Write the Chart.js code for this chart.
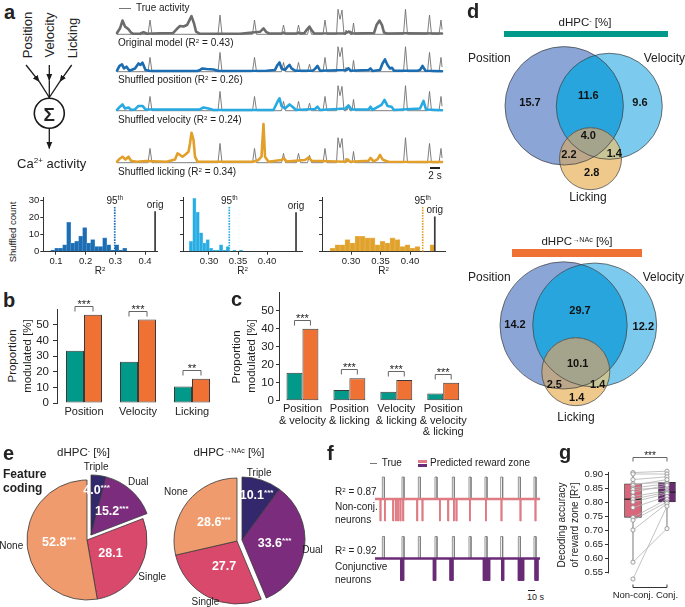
<!DOCTYPE html>
<html>
<head>
<meta charset="utf-8">
<title>Feature coding</title>
<script src="https://cdn.jsdelivr.net/npm/chart.js@4.4.1/dist/chart.umd.min.js"></script>
<style>
  body { margin: 0; background: #fff; font-family: "Liberation Sans", Arial, sans-serif; color: #222; }
  #fig { position: relative; width: 685px; height: 607px; overflow: hidden; }
  #fig canvas { position: absolute; }
  .lab { position: absolute; white-space: nowrap; line-height: 1; }
  .lab sup { font-size: 0.62em; vertical-align: 0.5em; line-height: 0; }
  .blk { position: absolute; }
</style>
</head>
<body>
<div id="fig">
  <svg width="100" height="160" style="position:absolute;left:0;top:0">
    <defs>
      <marker id="ah" viewBox="0 0 8 8" refX="7.5" refY="4" markerWidth="7" markerHeight="7" markerUnits="userSpaceOnUse" orient="auto">
        <path d="M0,0.6 L8,4 L0,7.4 z" fill="#1a1a1a"/>
      </marker>
    </defs>
    <g stroke="#1a1a1a" stroke-width="1.3" fill="none">
      <line x1="26" y1="65" x2="39.3" y2="81.7" marker-end="url(#ah)"/>
      <line x1="39.3" y1="81.7" x2="49.3" y2="97.5"/>
      <line x1="49.3" y1="65" x2="49.3" y2="80.5" marker-end="url(#ah)"/>
      <line x1="49.3" y1="80.5" x2="49.3" y2="98"/>
      <line x1="71.7" y1="65" x2="59.8" y2="81.7" marker-end="url(#ah)"/>
      <line x1="59.8" y1="81.7" x2="49.3" y2="97.5"/>
      <circle cx="49.3" cy="113.3" r="15" stroke-width="1.6"/>
      <line x1="49.3" y1="128.3" x2="49.3" y2="148.5" marker-end="url(#ah)"/>
    </g>
  </svg>
</div>
<script>
// ---------- panel a: model traces (time in s, activity scaled to the tallest true peak)
const trueActivity = [[0,0],[6.2,0],[6.6,0.57],[7.0,0],[20.2,0],[20.6,0.77],[21.0,0],[27.1,0],[27.5,0.57],[27.9,0],
  [32.9,0],[33.3,0.37],[33.7,0],[35.9,0],[36.3,0.37],[36.7,0],[38.1,0],[38.5,0.3],[38.9,0],[41.2,0],[41.6,0.57],[42.0,0],
  [43.9,0],[44.2,1.0],[44.6,0.6],[45.0,0.97],[45.4,0],[45.6,0],[45.8,0.17],[46.0,0.02],[46.3,0.15],[46.6,0],[47.0,0],
  [47.3,0.45],[47.6,0],[57.3,0],[57.7,1.0],[58.1,0],[62.1,0],[62.5,0.77],[62.9,0],[64.4,0],[64.8,0.57],[65,0.2]];
const modelOriginal = [[0,0.05],[0.6,0.24],[1.1,0.55],[1.6,0.31],[2.3,0.2],[2.8,0.07],[3.3,0.02],[4.6,0.02],[5.3,0.08],
  [6.0,0.02],[8.6,0.04],[11.2,0.05],[11.9,0.2],[12.6,0.33],[13.3,0.31],[14.0,0.37],[14.5,0.57],[14.9,0.73],[15.4,0.44],
  [15.8,0.11],[16.6,0.02],[24.6,0.02],[28.6,0.1],[29.3,0.24],[29.8,0.1],[30.5,0.03],[33.0,0.03],[33.3,0.07],[33.6,0.03],
  [36.0,0.03],[36.3,0.07],[36.6,0.03],[37.5,0.05],[37.9,0.17],[38.5,0.31],[38.9,0.17],[39.4,0.04],[45.5,0.03],[45.9,0.08],
  [46.6,0.1],[47.0,0.03],[51.4,0.05],[51.9,0.37],[52.5,0.55],[53.0,0.37],[53.4,0.07],[54,0.03],[57.9,0.04],[65,0.03]];
const modelShufPos = [[0,0.04],[0.5,0.23],[1.0,0.29],[1.4,0.13],[1.9,0.2],[2.5,0.04],[3.6,0.13],[4.3,0.33],[4.7,0.27],
  [5.1,0.36],[5.7,0.07],[6.6,0.03],[16.1,0.03],[16.6,0.07],[17.1,0.13],[17.9,0.11],[19.3,0.09],[20.3,0.03],[29.9,0.04],
  [31.6,0.07],[32.1,0.27],[32.5,0.37],[32.9,0.13],[33.6,0.07],[34.1,0.2],[34.5,0.27],[34.9,0.13],[35.6,0.04],[39.1,0.04],
  [39.6,0.11],[40.1,0.23],[40.6,0.04],[45.8,0.07],[46.3,0.13],[46.7,0.04],[50.3,0.07],[50.7,0.13],[51.1,0.03],[52.6,0.07],
  [53.1,0.33],[53.6,0.49],[54.1,0.27],[54.6,0.13],[55.0,0.16],[55.4,0.04],[60.1,0.04],[60.6,0.07],[61.1,0.23],[61.7,0.04],[65,0.02]];
const modelShufVel = [[0,0.03],[0.6,0.16],[1.1,0.25],[1.6,0.09],[2.3,0.13],[2.8,0.03],[3.6,0.05],[4.3,0.19],[5.1,0.19],
  [5.7,0.05],[16.6,0.05],[17.3,0.13],[18.3,0.09],[19.3,0.03],[31.3,0.03],[32.1,0.36],[32.5,0.49],[32.9,0.19],[33.6,0.09],
  [34.5,0.25],[35.1,0.16],[35.8,0.03],[39.6,0.07],[40.1,0.16],[40.6,0.03],[45.8,0.09],[46.3,0.21],[46.9,0.05],[50.3,0.05],
  [50.7,0.16],[51.1,0.03],[52.9,0.23],[53.5,0.43],[54.1,0.19],[54.9,0.16],[55.4,0.03],[60.6,0.09],[61.3,0.39],[61.8,0.05],[65,0.02]];
const modelShufLick = [[0,0.04],[0.6,0.17],[1.1,0.24],[1.7,0.13],[2.3,0.24],[2.8,0.08],[3.9,0.04],[5.9,0.07],[9.9,0.04],
  [11.6,0.13],[12.1,0.37],[12.6,0.31],[13.1,0.24],[13.8,0.35],[14.3,0.44],[14.6,0.77],[14.9,1.2],[15.3,0.91],[15.6,0.24],
  [16.1,0.04],[27.3,0.04],[28.3,0.11],[28.9,0.24],[29.3,1.55],[29.6,0.24],[30.3,0.04],[32.9,0.11],[33.4,0.17],[33.9,0.05],
  [37.6,0.11],[38.3,0.21],[38.9,0.08],[45.6,0.04],[46.1,0.13],[46.6,0.04],[50.3,0.08],[50.7,0.19],[51.3,0.05],[52.1,0.13],
  [52.6,0.31],[53.1,0.13],[53.7,0.08],[54.3,0.04],[65,0.03]];
const traceLabels = ['Original model (R<sup>2</sup> = 0.43)', 'Shuffled position (R<sup>2</sup> = 0.26)',
  'Shuffled velocity (R<sup>2</sup> = 0.24)', 'Shuffled licking (R<sup>2</sup> = 0.34)'];

// ---------- shuffled R² histograms
const histPosBins = [0.0888,0.1023,0.1158,0.1292,0.1427,0.1562,0.1697,0.1832,0.1966,0.2101,0.2236,0.2371,0.2506,0.2640,0.2775,0.2910,0.3045,0.3180,0.3314];
const histPosCounts = [1,2,2,4,17,5,6,9,14,5,7,3,3,8,4,1,4,1,2];
const histVelBins = [0.269,0.2748,0.2805,0.2863,0.292,0.2978,0.3035,0.3093,0.315,0.3208,0.3265,0.3323,0.338,0.3438,0.3495,0.3553];
const histVelCounts = [6,31,23,11,5,7,2,1,1,4,1,3,0,1,0,1];
const histLickBins = [0.2686,0.2771,0.2856,0.2940,0.3025,0.3110,0.3194,0.3279,0.3364,0.3449,0.3533,0.3618,0.3703,0.3787,0.3872,0.3957,0.4042,0.4126,0.4211,0.4296,0.4380];
const histLickCounts = [2,4,4,7,5,9,9,8,8,4,6,5,8,7,3,4,2,3,0,0,4];
const histP95 = [0.298, 0.335, 0.4215];
const histP95Height = [26, 26, 26];
const histOrig = [0.434, 0.45, 0.442];
const histOrigHeight = [23.5, 23, 20.5];
const histYTicks = [0, 10, 20, 30];
const histPosTicks = [0.1, 0.2, 0.3, 0.4];
const histVelTicks = [0.30, 0.35, 0.40];
const histLickTicks = [0.30, 0.35, 0.40];

// ---------- b / c: proportion modulated [%]
const featureCats = ['Position', 'Velocity', 'Licking'];
const featDhpc = [33.5, 26.5, 10.5];
const featNac = [56.5, 53.5, 15.5];
const featSig = ['***', '***', '**'];
const comboCats = [['Position', '& velocity'], ['Position', '& licking'], ['Velocity', '& licking'], ['Position', '& velocity', '& licking']];
const comboDhpc = [15.5, 6, 5, 4];
const comboNac = [40, 12.5, 11.5, 10];
const comboSig = ['***', '***', '***', '***'];
const barTicks = [0, 10, 20, 30, 40, 50];

// ---------- d: Venn regions [P only, P&V, V only, P&V&L, P&L, V&L, L only]
const vennDhpc = [15.7, 11.6, 9.6, 4.0, 2.2, 1.4, 2.8];
const vennNac = [14.2, 29.7, 12.2, 10.1, 2.5, 1.4, 1.4];

// ---------- e: feature coding [%]
const codingCats = ['Triple', 'Dual', 'Single', 'None'];
const codingDhpc = [4.0, 15.2, 28.1, 52.8];
const codingDhpcSig = ['***', '***', '', '***'];
const codingNac = [10.1, 33.6, 27.7, 28.6];
const codingNacSig = ['***', '***', '', '***'];

// ---------- f: reward zone, true vs predicted (time in s)
const rewardZones = [[11,14],[40.5,43.5],[65,68],[90,93],[116,119],[141,144],[165,168],[188.5,191.5],[215,218],[238.5,241.5]];
const predNonConj = [[7.8,9.2],[14.3,15.7],[26.8,28.2],[30.8,32.2],[34.3,35.7],[37.8,39.2],[41.8,43.2],[62.8,64.2],[70.8,72.2],
  [96.8,98.2],[109.3,110.7],[117.8,119.2],[121.8,123.2],[141.8,143.2],[165.8,167.2],[189.3,190.7],[217.8,219.2],[240.3,241.7]];
const predConj = [[38.5,43.5],[87.5,91.5],[112.5,117.5],[162.5,172.5],[190,193.5],[215,223.5],[240,245]];

// ---------- g: decoding accuracy (paired)
const groupCats = ['Non-conj.', 'Conj.'];
const accNonConj = [0.905,0.90,0.88,0.865,0.86,0.85,0.845,0.835,0.82,0.81,0.80,0.78,0.745,0.735,0.70,0.585,0.525];
const accConj =    [0.91,0.90,0.89,0.87,0.88,0.865,0.85,0.86,0.84,0.835,0.83,0.82,0.81,0.80,0.795,0.705,0.785];
const boxStats = [[0.585, 0.745, 0.81, 0.865, 0.905], [0.705, 0.80, 0.835, 0.87, 0.91]]; // min, q1, median, q3, max
const accTicks = [0.55, 0.60, 0.65, 0.70, 0.75, 0.80, 0.85, 0.90];

// ---------- colours and layout
const FONT = '"Liberation Sans", Arial, sans-serif';
const TEAL = '#00998a', ORANGE = '#ef7234';
const PIE_COLORS = ['#33286c', '#7b2c7d', '#d9496c', '#ef9b6d'];
const PIE_FRAC = [0.74, 0.52, 0.45, 0.47];
const VENN_COLORS = { P: '#8aa5d6', V: '#7ccbef', PV: '#29a5dd', L: '#efc98b', PL: '#bca78b', VL: '#c9c597', PVL: '#a4a38b' };

Chart.defaults.font.family = FONT;
Chart.defaults.color = '#222';
Chart.defaults.animation = false;
Chart.defaults.responsive = false;
Chart.defaults.maintainAspectRatio = false;
Chart.defaults.devicePixelRatio = 1;
Chart.defaults.events = [];
Chart.defaults.layout.autoPadding = false;
Chart.defaults.plugins.legend.display = false;
Chart.defaults.plugins.tooltip.enabled = false;

const fig = document.getElementById('fig');
const toXY = arr => arr.map(([x, y]) => ({ x, y }));

function canvasAt(left, top, w, h) {
  const c = document.createElement('canvas');
  c.width = w; c.height = h;
  c.style.left = left + 'px'; c.style.top = top + 'px';
  c.style.width = w + 'px'; c.style.height = h + 'px';
  fig.appendChild(c);
  return c;
}

// canvas placed so that the chart area covers [x0,x1] x [y0,y1]
function areaCanvas(x0, y0, x1, y1, m, yw = 0, xh = 0) {
  const left = Math.floor(x0 - m.l), top = Math.floor(y0 - m.t);
  const right = Math.ceil(x1 + m.r), bottom = Math.ceil(y1 + m.b);
  const cv = canvasAt(left, top, right - left, bottom - top);
  return { cv, padding: { left: x0 - left - yw, top: y0 - top, right: right - x1, bottom: bottom - y1 - xh } };
}

function label(html, x, y, o = {}) {
  const d = document.createElement('div');
  d.className = 'lab';
  d.innerHTML = html;
  const tx = o.align === 'c' ? '-50%' : o.align === 'r' ? '-100%' : '0';
  d.style.left = x + 'px';
  d.style.top = y + 'px';
  d.style.fontSize = (o.size || 11) + 'px';
  if (o.bold) d.style.fontWeight = 'bold';
  if (o.color) d.style.color = o.color;
  d.style.transform = `translate(${tx},-50%)` + (o.rot ? ' rotate(-90deg)' : '');
  fig.appendChild(d);
}

function block(x, y, w, h, bg) {
  const d = document.createElement('div');
  d.className = 'blk';
  d.style.cssText = `left:${x}px;top:${y}px;width:${w}px;height:${h}px;background:${bg}`;
  fig.appendChild(d);
}

// ---------- a: traces
function traceChart(model, color, baseY, ymax) {
  const ppu = 25;
  const { cv, padding } = areaCanvas(117, baseY - ymax * ppu, 442, baseY + 0.2 * ppu, { l: 4, t: 4, r: 4, b: 3 });
  new Chart(cv, {
    type: 'line',
    data: { datasets: [
      { data: toXY(model), borderColor: color, borderWidth: 2.6, order: 1, clip: false },
      { data: toXY(trueActivity), borderColor: '#707070', borderWidth: 0.9, order: 2, clip: false }
    ] },
    options: {
      layout: { padding },
      elements: { point: { radius: 0 }, line: { tension: 0, borderJoinStyle: 'round', borderCapStyle: 'round' } },
      scales: { x: { type: 'linear', min: 0, max: 65, display: false }, y: { min: -0.2, max: ymax, display: false } }
    }
  });
}
traceChart(modelOriginal, '#6c6c6c', 34.3, 1.1);
traceChart(modelShufPos, '#1b6cb0', 71.7, 1.1);
traceChart(modelShufVel, '#27a9e1', 110.7, 1.1);
traceChart(modelShufLick, '#e2a02a', 162.7, 1.65);

// ---------- histograms
const histMarks = items => ({
  id: 'histMarks',
  afterDatasetsDraw(chart) {
    const { ctx, scales: { x, y } } = chart;
    ctx.save();
    ctx.fillStyle = '#222';
    ctx.textBaseline = 'alphabetic';
    ctx.textAlign = 'left';
    items.forEach(([v, h, main, sup]) => {
      const px = x.getPixelForValue(v), py = y.getPixelForValue(h) - 3;
      ctx.font = '10px ' + FONT;
      const w1 = ctx.measureText(main).width;
      ctx.font = '6.5px ' + FONT;
      const w2 = sup ? ctx.measureText(sup).width : 0;
      const sx = px - (w1 + w2) / 2;
      ctx.font = '10px ' + FONT;
      ctx.fillText(main, sx, py);
      if (sup) { ctx.font = '6.5px ' + FONT; ctx.fillText(sup, sx + w1, py - 4); }
    });
    ctx.restore();
  }
});

function histChart(o) {
  const yw = o.yLabels ? 22 : 5, xh = 15;
  const { cv, padding } = areaCanvas(o.x0, 197.5, o.x1, 251.7, { l: yw + 2, t: 12, r: 14, b: xh + 2 }, yw, xh);
  new Chart(cv, {
    data: { datasets: [
      { type: 'bar', data: o.bins.map((x, i) => ({ x, y: o.counts[i] })), backgroundColor: o.color,
        borderColor: o.edge, borderWidth: 0.6, barPercentage: 1, categoryPercentage: 1, order: 3 },
      { type: 'line', data: [{ x: o.p95, y: 0 }, { x: o.p95, y: o.p95h }], borderColor: o.color, borderWidth: 1.7,
        borderDash: [1.6, 1.1], pointRadius: 0, order: 2 },
      { type: 'line', data: [{ x: o.orig, y: 0 }, { x: o.orig, y: o.origh }], borderColor: '#3a3a3a', borderWidth: 1.7,
        pointRadius: 0, order: 1 }
    ] },
    options: {
      layout: { padding },
      scales: {
        x: { type: 'linear', min: o.xmin, max: o.xmax, offset: false,
          afterBuildTicks: s => { s.ticks = o.ticks.map(value => ({ value })); },
          ticks: { callback: v => v.toFixed(o.dec), font: { size: 9.5 }, padding: 1, color: '#222', maxRotation: 0 },
          grid: { drawOnChartArea: false, tickLength: 3, color: '#333', offset: false }, border: { color: '#333' },
          afterFit: s => { s.height = xh; } },
        y: { min: 0, max: 31.5,
          afterBuildTicks: s => { s.ticks = histYTicks.map(value => ({ value })); },
          ticks: { display: o.yLabels, font: { size: 9.5 }, padding: 1, color: '#222' },
          grid: { drawOnChartArea: false, tickLength: 3, color: '#333' }, border: { color: '#333' },
          afterFit: s => { s.width = yw; } }
      }
    },
    plugins: [histMarks([[o.p95, o.p95h, '95', 'th'], [o.orig, o.origh, 'orig', '']])]
  });
}
histChart({ x0: 43.3, x1: 157, xmin: 0.0572, xmax: 0.4404, bins: histPosBins, counts: histPosCounts, color: '#1d6db2',
  edge: '#4d92cf', p95: histP95[0], p95h: histP95Height[0], orig: histOrig[0], origh: histOrigHeight[0],
  ticks: histPosTicks, dec: 1, yLabels: true });
histChart({ x0: 183, x1: 302, xmin: 0.2552, xmax: 0.4603, bins: histVelBins, counts: histVelCounts, color: '#28ade3',
  edge: '#6cc8ef', p95: histP95[1], p95h: histP95Height[1], orig: histOrig[1], origh: histOrigHeight[1],
  ticks: histVelTicks, dec: 2, yLabels: false });
histChart({ x0: 322, x1: 445, xmin: 0.2508, xmax: 0.4593, bins: histLickBins, counts: histLickCounts, color: '#e0a22c',
  edge: '#edbd63', p95: histP95[2], p95h: histP95Height[2], orig: histOrig[2], origh: histOrigHeight[2],
  ticks: histLickTicks, dec: 2, yLabels: false });

// ---------- b and c: grouped bars with significance brackets
const sigPlugin = marks => ({
  id: 'sig',
  afterDatasetsDraw(chart) {
    const { ctx } = chart;
    const a = chart.getDatasetMeta(0).data, b = chart.getDatasetMeta(1).data;
    ctx.save();
    ctx.strokeStyle = '#666'; ctx.lineWidth = 1; ctx.fillStyle = '#222';
    ctx.font = '11px ' + FONT; ctx.textAlign = 'center'; ctx.textBaseline = 'alphabetic';
    marks.forEach((s, i) => {
      const y = Math.round(Math.min(a[i].y, b[i].y) - 9) + 0.5;
      ctx.beginPath();
      ctx.moveTo(a[i].x, y + 5); ctx.lineTo(a[i].x, y); ctx.lineTo(b[i].x, y); ctx.lineTo(b[i].x, y + 5);
      ctx.stroke();
      ctx.fillText(s, (a[i].x + b[i].x) / 2, y + 1.5);
    });
    ctx.restore();
  }
});

function barOptions(padding, yw, xh, catPct, labelPad) {
  return {
    layout: { padding },
    datasets: { bar: { categoryPercentage: catPct, barPercentage: 1, borderColor: '#3a3a3a', borderWidth: 1, borderSkipped: false } },
    scales: {
      x: { grid: { display: false, drawTicks: false }, border: { display: false },
        ticks: { font: { size: 11, lineHeight: 1.08 }, color: '#222', padding: labelPad, maxRotation: 0, autoSkip: false },
        afterFit: s => { s.height = xh; } },
      y: { min: 0, max: 60, afterBuildTicks: s => { s.ticks = barTicks.map(value => ({ value })); },
        ticks: { font: { size: 11.5 }, color: '#222', padding: yw > 24 ? 4 : 2 },
        grid: { drawOnChartArea: false, tickLength: yw > 24 ? 4 : 3, color: '#333' }, border: { color: '#333' },
        afterFit: s => { s.width = yw; } }
    }
  };
}

{
  const { cv, padding } = areaCanvas(57, 309.4, 219, 403, { l: 27, t: 30, r: 2, b: 20 }, 27, 20);
  new Chart(cv, {
    type: 'bar',
    data: { labels: featureCats, datasets: [
      { data: featDhpc, backgroundColor: TEAL }, { data: featNac, backgroundColor: ORANGE }] },
    options: barOptions(padding, 27, 20, 0.667, 3),
    plugins: [sigPlugin(featSig)]
  });
}
{
  const { cv, padding } = areaCanvas(279, 292.7, 467, 400.7, { l: 21, t: 8, r: 2, b: 44 }, 21, 44);
  new Chart(cv, {
    type: 'bar',
    data: { labels: comboCats, datasets: [
      { data: comboDhpc, backgroundColor: TEAL }, { data: comboNac, backgroundColor: ORANGE }] },
    options: barOptions(padding, 21, 44, 0.68, 2),
    plugins: [sigPlugin(comboSig)]
  });
}

// ---------- d: Venn diagrams drawn on bubble charts
const vennPlugin = (vals, pos) => ({
  id: 'venn',
  beforeDatasetsDraw(chart) {
    const { ctx } = chart;
    const [P, V, L] = chart.getDatasetMeta(0).data;
    const circle = e => { const p = new Path2D(); p.arc(e.x, e.y, e.options.radius, 0, Math.PI * 2); return p; };
    const pP = circle(P), pV = circle(V), pL = circle(L);
    const fill = (p, c, clips = []) => { ctx.save(); clips.forEach(cp => ctx.clip(cp)); ctx.fillStyle = c; ctx.fill(p); ctx.restore(); };
    fill(pP, VENN_COLORS.P); fill(pV, VENN_COLORS.V); fill(pV, VENN_COLORS.PV, [pP]);
    fill(pL, VENN_COLORS.L); fill(pL, VENN_COLORS.PL, [pP]); fill(pL, VENN_COLORS.VL, [pV]); fill(pL, VENN_COLORS.PVL, [pP, pV]);
  },
  afterDatasetsDraw(chart) {
    const { ctx, scales: { x, y } } = chart;
    ctx.save();
    ctx.font = 'bold 11px ' + FONT; ctx.fillStyle = '#111'; ctx.textAlign = 'center'; ctx.textBaseline = 'middle';
    vals.forEach((v, i) => ctx.fillText(v.toFixed(1), x.getPixelForValue(pos[i][0]), y.getPixelForValue(pos[i][1])));
    ctx.restore();
  }
});

function vennChart(left, top, w, h, geo, vals, pos) {
  const cv = canvasAt(left, top, w, h);
  new Chart(cv, {
    type: 'bubble',
    data: { datasets: [{ data: geo.map(([x, y, r]) => ({ x, y, r })), backgroundColor: 'rgba(0,0,0,0)',
      borderColor: '#3c3c3c', borderWidth: 0.7, clip: false }] },
    options: { layout: { padding: 0, autoPadding: false },
      scales: { x: { min: 0, max: w, display: false }, y: { min: 0, max: h, reverse: true, display: false } } },
    plugins: [vennPlugin(vals, pos)]
  });
}
vennChart(455, 40, 230, 153,
  [[109.2, 65.8, 59.2], [154.3, 66.3, 53], [135.5, 118.7, 31]], vennDhpc,
  [[75, 63.3], [133.3, 56], [185, 62.7], [133.3, 96], [114, 115.3], [159.3, 114], [136.7, 132.7]]);
vennChart(455, 255, 230, 154,
  [[108.6, 70.4, 63.6], [139.7, 70, 62], [120.8, 116.7, 34]], vennNac,
  [[60, 70], [125, 55.7], [188.3, 72.3], [122.7, 109.3], [99.3, 130], [142.7, 130], [121.7, 143.3]]);

// ---------- e: pies, exploded slices drawn on a shifted twin chart
const pieLabels = (vals, sig, show, shift, gaps) => ({
  id: 'pieLabels',
  afterDatasetsDraw(chart) {
    const { ctx } = chart;
    ctx.save();
    ctx.textBaseline = 'middle';
    chart.getDatasetMeta(0).data.forEach((arc, i) => {
      if (!show[i]) return;
      const { x, y, startAngle, endAngle, outerRadius } = arc.getProps(['x', 'y', 'startAngle', 'endAngle', 'outerRadius'], true);
      const mid = (startAngle + endAngle) / 2, c = Math.cos(mid), s = Math.sin(mid);
      const ri = outerRadius * PIE_FRAC[i];
      const txt = vals[i].toFixed(1);
      ctx.font = 'bold 12.5px ' + FONT;
      const w1 = ctx.measureText(txt).width;
      ctx.font = 'bold 8px ' + FONT;
      const w2 = ctx.measureText(sig[i]).width;
      const lx = x + c * ri - (w1 + w2) / 2, ly = y + s * ri;
      ctx.fillStyle = '#fff'; ctx.textAlign = 'left';
      ctx.font = 'bold 12.5px ' + FONT; ctx.fillText(txt, lx, ly);
      ctx.font = 'bold 8px ' + FONT; ctx.fillText(sig[i], lx + w1, ly - 3);
      ctx.font = '10px ' + FONT; ctx.fillStyle = '#222'; ctx.textAlign = 'center';
      const ro = outerRadius + gaps[i];
      ctx.fillText(codingCats[i], x - shift[0] + c * ro, y - shift[1] + s * ro);
    });
    ctx.restore();
  }
});

function pieChart(cx, cy, r, vals, sig, shift, gaps) {
  const exploded = [true, true, false, false];
  [false, true].forEach(part => {
    const sh = part ? shift : [0, 0];
    const cv = canvasAt(cx - 90 + sh[0], cy - 80 + sh[1], 180, 160);
    const show = exploded.map(e => e === part);
    new Chart(cv, {
      type: 'pie',
      data: { labels: codingCats, datasets: [{ data: vals, radius: r,
        backgroundColor: PIE_COLORS.map((col, i) => show[i] ? col : 'rgba(0,0,0,0)'),
        borderColor: show.map(v => v ? '#3a3a3a' : 'rgba(0,0,0,0)'), borderWidth: 0.8 }] },
      options: { layout: { padding: 0 } },
      plugins: [pieLabels(vals, sig, show, sh, gaps)]
    });
  });
}
pieChart(87, 540, 60, codingDhpc, codingDhpcSig, [4, -5], [13, 17, 15, 16]);
pieChart(237, 541, 63, codingNac, codingNacSig, [5, -1], [8, 13, 6, 15]);

// ---------- f: reward-zone traces
function pulses(zones, h) {
  const pts = [{ x: 0, y: 0 }];
  zones.forEach(([a, b]) => pts.push({ x: a, y: 0 }, { x: a, y: h }, { x: b, y: h }, { x: b, y: 0 }));
  pts.push({ x: 247.5, y: 0 });
  return pts;
}
function zoneChart(baseY, zones, color) {
  const ppu = 22;
  const { cv, padding } = areaCanvas(375, baseY - 1.15 * ppu, 540, baseY + 1.1 * ppu, { l: 3, t: 2, r: 3, b: 2 });
  new Chart(cv, {
    type: 'line',
    data: { datasets: [
      { data: pulses([], 0), borderColor: color, borderWidth: 2.6, order: 2, clip: false },
      { data: pulses(zones, -1), borderColor: color, backgroundColor: color, borderWidth: 0.9,
        fill: { value: 0 }, order: 1, clip: false },
      { data: pulses(rewardZones, 1), borderColor: '#7a7a7a', borderWidth: 0.8, order: 3, clip: false }
    ] },
    options: {
      layout: { padding },
      elements: { point: { radius: 0 }, line: { tension: 0, borderJoinStyle: 'miter' } },
      scales: { x: { type: 'linear', min: 0, max: 247.5, display: false }, y: { min: -1.1, max: 1.15, display: false } }
    }
  });
}
zoneChart(499, predNonConj, '#e07b83');
zoneChart(558.5, predConj, '#692a76');

// ---------- g: paired box plot
const boxPlugin = {
  id: 'boxParts',
  afterDatasetDraw(chart, args) {
    if (args.index !== 0) return;
    const { ctx, scales: { x, y } } = chart;
    const bars = args.meta.data;
    ctx.save();
    boxStats.forEach(([lo, q1, med, q3, hi], i) => {
      const px = x.getPixelForValue(i), hw = bars[i].width / 2;
      ctx.strokeStyle = '#7a7a7a'; ctx.lineWidth = 1;
      ctx.beginPath();
      ctx.moveTo(px, y.getPixelForValue(lo)); ctx.lineTo(px, y.getPixelForValue(q1));
      ctx.moveTo(px, y.getPixelForValue(q3)); ctx.lineTo(px, y.getPixelForValue(hi));
      ctx.stroke();
      ctx.strokeStyle = '#222'; ctx.lineWidth = 1.3;
      ctx.beginPath(); ctx.moveTo(px - hw, y.getPixelForValue(med)); ctx.lineTo(px + hw, y.getPixelForValue(med)); ctx.stroke();
    });
    ctx.restore();
  },
  afterDraw(chart) {
    const { ctx, chartArea, scales: { x, y } } = chart;
    ctx.save();
    ctx.strokeStyle = '#333'; ctx.lineWidth = 1;
    const ax = Math.round(chartArea.left) + 0.5;
    ctx.beginPath(); ctx.moveTo(ax, y.getPixelForValue(0.9075)); ctx.lineTo(ax, y.getPixelForValue(0.545)); ctx.stroke();
    const x0 = x.getPixelForValue(0), x1 = x.getPixelForValue(1);
    const by = Math.round(chartArea.bottom + 2.5) + 0.5;
    ctx.beginPath(); ctx.moveTo(x0, by - 3); ctx.lineTo(x0, by); ctx.lineTo(x1, by); ctx.lineTo(x1, by - 3); ctx.stroke();
    const ty = Math.round(chartArea.top - 10) + 0.5;
    ctx.strokeStyle = '#666';
    ctx.beginPath(); ctx.moveTo(x0, ty + 4); ctx.lineTo(x0, ty); ctx.lineTo(x1, ty); ctx.lineTo(x1, ty + 4); ctx.stroke();
    ctx.fillStyle = '#222'; ctx.font = '10px ' + FONT; ctx.textAlign = 'center'; ctx.textBaseline = 'alphabetic';
    ctx.fillText('***', (x0 + x1) / 2, ty + 1.5);
    ctx.restore();
  }
};
{
  const { cv, padding } = areaCanvas(608, 467, 685, 584.6, { l: 52, t: 22, r: 0, b: 19 }, 52, 18);
  const pairs = [];
  accNonConj.forEach((v, i) => pairs.push({ x: 0, y: v }, { x: 1, y: accConj[i] }, { x: 1, y: null }));
  const dots = accNonConj.map(v => ({ x: 0, y: v })).concat(accConj.map(v => ({ x: 1, y: v })));
  new Chart(cv, {
    data: { datasets: [
      { type: 'bar', data: boxStats.map((s, i) => ({ x: i, y: [s[1], s[3]] })), backgroundColor: ['#d9667a', '#6c2a75'],
        borderColor: '#333', borderWidth: 0.9, borderSkipped: false, barThickness: 17, order: 3 },
      { type: 'line', data: pairs, borderColor: '#b3b3b3', borderWidth: 0.8, pointRadius: 0, spanGaps: false, order: 2 },
      { type: 'line', data: dots, showLine: false, pointRadius: 2.1, pointBackgroundColor: '#f6f6f6',
        pointBorderColor: '#8c8c8c', pointBorderWidth: 0.8, order: 1 }
    ] },
    options: {
      layout: { padding },
      scales: {
        x: { type: 'linear', min: -0.735, max: 1.53, offset: false,
          afterBuildTicks: s => { s.ticks = [0, 1].map(value => ({ value })); },
          ticks: { callback: v => groupCats[v], font: { size: 9.5 }, color: '#222', padding: 5, maxRotation: 0 },
          grid: { display: false, drawTicks: false }, border: { display: false },
          afterFit: s => { s.height = 18; } },
        y: { min: 0.505, max: 0.925,
          afterBuildTicks: s => { s.ticks = accTicks.map(value => ({ value })); },
          ticks: { callback: v => v.toFixed(2), font: { size: 9.5 }, color: '#222', padding: 2 },
          grid: { drawOnChartArea: false, tickLength: 3, color: '#333' }, border: { display: false },
          afterFit: s => { s.width = 52; } }
      }
    },
    plugins: [boxPlugin]
  });
}

// ---------- text
label('a', 4, 12, { size: 20, bold: true });
label('b', 3, 300, { size: 20, bold: true });
label('c', 231, 298.5, { size: 20, bold: true });
label('d', 467, 10.5, { size: 20, bold: true });
label('e', 3, 453, { size: 20, bold: true });
label('f', 327, 453, { size: 20, bold: true });
label('g', 559, 451.5, { size: 20, bold: true });

// a: diagram
label('Position', 27, 34.5, { size: 13, rot: true, align: 'c' });
label('Velocity', 49.3, 35.3, { size: 13, rot: true, align: 'c' });
label('Licking', 72, 37.8, { size: 13, rot: true, align: 'c' });
label('Σ', 49.3, 113.8, { size: 19, bold: true, align: 'c' });
label('Ca<sup>2+</sup> activity', 51.7, 163.3, { size: 13, align: 'c' });
// a: traces
block(119, 7.5, 12, 1, '#777');
label('True activity', 136, 8, { size: 10 });
[43, 80, 119.5, 171.7].forEach((y, i) => label(traceLabels[i], 118, y, { size: 10 }));
block(430, 167, 10, 1.6, '#222');
label('2 s', 435, 175.5, { size: 10, align: 'c' });
// histograms
label('Shuffled count', 13, 232, { size: 9.5, rot: true, align: 'c' });
[100, 242.5, 383.5].forEach(x => label('R<sup>2</sup>', x, 271, { size: 10, align: 'c' }));
// b, c
label('Proportion', 13.3, 356, { size: 11.5, rot: true, align: 'c' });
label('modulated [%]', 28.3, 356, { size: 11.5, rot: true, align: 'c' });
label('Proportion', 237, 357, { size: 11.5, rot: true, align: 'c' });
label('modulated [%]', 252, 356, { size: 11.5, rot: true, align: 'c' });
// d
label('dHPC<sup>-</sup> [%]', 585, 23, { size: 11.5, align: 'c' });
block(504, 30.7, 164, 6.6, TEAL);
label('Position', 468, 58, { size: 12 });
label('Velocity', 685, 58, { size: 12, align: 'r' });
label('Licking', 588, 197, { size: 12, align: 'c' });
label('dHPC<sup>→NAc</sup> [%]', 577, 242, { size: 11.5, align: 'c' });
block(512, 249.3, 130, 7.4, ORANGE);
label('Position', 468, 277, { size: 12 });
label('Velocity', 684, 277, { size: 12, align: 'r' });
label('Licking', 576, 417, { size: 12, align: 'c' });
// e
label('dHPC<sup>-</sup> [%]', 83.5, 453, { size: 11.5, align: 'c' });
label('dHPC<sup>→NAc</sup> [%]', 229, 453, { size: 11.5, align: 'c' });
label('Feature', 3, 474, { size: 12, bold: true });
label('coding', 3, 488, { size: 12, bold: true });
// f
block(370, 463, 7, 1, '#777');
label('True', 381.7, 463, { size: 10 });
block(418, 459.5, 9, 3, '#e07b83');
block(418, 463.5, 9, 3.5, '#692a76');
label('Predicted reward zone', 430, 463, { size: 10 });
label('R<sup>2</sup> = 0.87', 335, 492, { size: 10 });
label('Non-conj.', 335, 507, { size: 10 });
label('neurons', 335, 520, { size: 10 });
label('R<sup>2</sup> = 0.92', 335, 551, { size: 10 });
label('Conjunctive', 335, 567, { size: 10 });
label('neurons', 335, 580, { size: 10 });
block(528, 590, 7, 1.2, '#222');
label('10 s', 527, 597, { size: 9 });
// g
label('Decoding accuracy', 561.7, 525, { size: 10, rot: true, align: 'c' });
label('of reward zone [R<sup>2</sup>]', 575, 525, { size: 10, rot: true, align: 'c' });
</script>
</body>
</html>
